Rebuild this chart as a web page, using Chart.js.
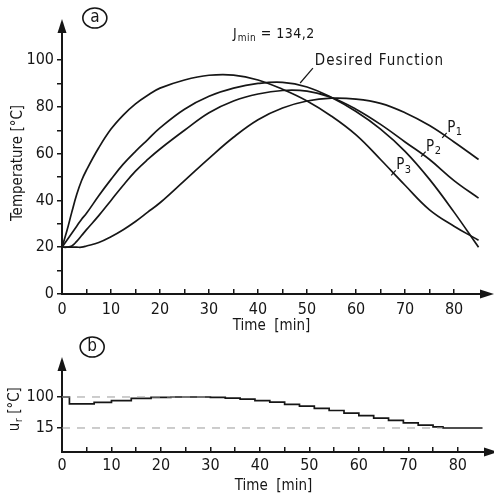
<!DOCTYPE html>
<html>
<head>
<meta charset="utf-8">
<script src="https://cdn.jsdelivr.net/npm/chart.js@4.4.1/dist/chart.umd.min.js"></script>
<style>
  html, body { margin: 0; padding: 0; background: #fff; }
  #wrap { position: relative; width: 494px; height: 500px; }
  #tempChart { position: absolute; left: 0; top: 0; }
  #ctrlChart { position: absolute; left: 0; top: 330px; }
</style>
</head>
<body>
<div id="wrap">
  <canvas id="tempChart" width="494" height="335"></canvas>
  <canvas id="ctrlChart" width="494" height="170"></canvas>
</div>
<script>
// --- chart (a): temperatures
const time = [0, 1, 2, 3, 4, 5, 7.5, 10, 12.5, 15, 17.5, 20, 25, 30, 35, 40, 45, 50, 55, 60, 65, 70, 75, 80, 85];
const desired = [20, 23, 26, 29, 32, 34.5, 42, 49, 55.5, 61, 66, 71, 79, 84.5, 88, 90, 90.5, 88.5, 84, 78, 70.5, 61, 49, 35, 20];
const p1 = [20, 20, 20, 20, 20, 20.5, 22, 24.5, 27.5, 31, 35, 39, 48.5, 58, 67, 74.5, 79.5, 82.5, 83.7, 83.3, 81.5, 77.5, 72, 65, 57.5];
const p2 = [20, 20, 20.5, 22.5, 25, 27.5, 33.5, 40, 46.5, 52.5, 57.5, 62, 70, 77.5, 82.5, 85.5, 87, 86.7, 84, 79, 72.5, 65, 57.5, 48.5, 41];
const p3 = [20, 27, 35, 42.5, 48.5, 53, 62.5, 70.5, 76.5, 81.3, 85, 88, 91.5, 93.5, 93.6, 91.5, 87.5, 82.5, 76, 68, 57.5, 46.5, 36, 29, 23];

// --- chart (b): control temperature u_r (staircase)
const ctrlTime = [0, 1.5, 6.5, 10, 14, 18, 22, 30, 33, 36, 39, 42, 45, 48, 51, 54, 57, 60, 63, 66, 69, 72, 75, 77, 85];
const ctrlValue = [100, 81, 85, 90, 96, 99, 100, 99, 97, 94, 90, 86, 80, 75, 69, 63, 56, 49, 42, 36, 29, 23, 18, 15, 15];
const guideHighTime = [0, 30];
const guideHigh = [100, 100];
const guideLowTime = [0, 77];
const guideLow = [15, 15];

// ticks
const xTicks = [0, 5, 10, 15, 20, 25, 30, 35, 40, 45, 50, 55, 60, 65, 70, 75, 80];
const tempTicks = [0, 10, 20, 30, 40, 50, 60, 70, 80, 90, 100];
const ctrlTicks = [15, 100];

const ink = '#161616';
const FONT = '"DejaVu Sans Condensed", "DejaVu Sans", sans-serif';

const pts = (xs, ys) => xs.map((t, i) => ({ x: t, y: ys[i] }));

function subText(ctx, x, y, main, sub, rest, size) {
  ctx.font = `${size}px ${FONT}`;
  ctx.fillText(main, x, y);
  let w = ctx.measureText(main).width;
  ctx.font = `${Math.round(size * 0.72)}px ${FONT}`;
  ctx.fillText(sub, x + w + 0.5, y + size * 0.3);
  w += ctx.measureText(sub).width + 0.5;
  if (rest) {
    ctx.font = `${size}px ${FONT}`;
    ctx.fillText(rest, x + w, y);
  }
}

function circleTag(ctx, cx, cy, letter) {
  ctx.lineWidth = 1.6;
  ctx.beginPath();
  ctx.ellipse(cx, cy, 12, 10, 0, 0, Math.PI * 2);
  ctx.stroke();
  ctx.font = `17px ${FONT}`;
  ctx.textAlign = 'center';
  ctx.fillText(letter, cx, cy);
  ctx.textAlign = 'left';
}

const axisArrows = {
  id: 'axisArrows',
  afterDraw(chart) {
    const { ctx, chartArea: a } = chart;
    ctx.save();
    ctx.fillStyle = ink;
    ctx.beginPath();
    ctx.moveTo(a.left, a.top - 13);
    ctx.lineTo(a.left - 4.5, a.top + 1);
    ctx.lineTo(a.left + 4.5, a.top + 1);
    ctx.closePath();
    ctx.fill();
    ctx.beginPath();
    ctx.moveTo(a.right + 13, a.bottom);
    ctx.lineTo(a.right - 1, a.bottom - 4.5);
    ctx.lineTo(a.right - 1, a.bottom + 4.5);
    ctx.closePath();
    ctx.fill();
    ctx.restore();
  }
};

// annotation anchors, in data units
const notesA = {
  tag: [6.7, 118],
  jmin: [34.9, 111],
  desired: [51.6, 99.6],
  leader: [[48.6, 90.2], [51.2, 96.6]],
  pLabels: [['1', 78.6, 71], ['2', 74.3, 63], ['3', 68.2, 55]]
};

const tempNotes = {
  id: 'tempNotes',
  afterDraw(chart) {
    const { ctx, scales: { x, y } } = chart;
    const px = t => x.getPixelForValue(t);
    const py = v => y.getPixelForValue(v);
    ctx.save();
    ctx.fillStyle = ink;
    ctx.strokeStyle = ink;
    ctx.textBaseline = 'middle';
    circleTag(ctx, px(notesA.tag[0]), py(notesA.tag[1]), 'a');
    ctx.letterSpacing = '0.5px';
    subText(ctx, px(notesA.jmin[0]), py(notesA.jmin[1]), 'J', 'min', ' = 134,2', 14);
    ctx.letterSpacing = '1px';
    ctx.font = `15px ${FONT}`;
    ctx.fillText('Desired Function', px(notesA.desired[0]), py(notesA.desired[1]));
    ctx.letterSpacing = '0px';
    ctx.lineWidth = 1.2;
    ctx.beginPath();
    ctx.moveTo(px(notesA.leader[0][0]), py(notesA.leader[0][1]));
    ctx.lineTo(px(notesA.leader[1][0]), py(notesA.leader[1][1]));
    ctx.stroke();
    notesA.pLabels.forEach(([n, t, v]) => {
      const lx = px(t), ly = py(v);
      subText(ctx, lx, ly, 'P', n, '', 15);
      ctx.beginPath();
      ctx.moveTo(lx - 0.5, ly + 5);
      ctx.lineTo(lx - 5, ly + 10);
      ctx.stroke();
    });
    ctx.restore();
  }
};

const ctrlNotes = {
  id: 'ctrlNotes',
  afterDraw(chart) {
    const { ctx, scales: { x, y } } = chart;
    ctx.save();
    ctx.fillStyle = ink;
    ctx.strokeStyle = ink;
    ctx.textBaseline = 'middle';
    circleTag(ctx, x.getPixelForValue(6.1), 17, 'b');
    // rotated axis title with subscript
    ctx.translate(15, (y.getPixelForValue(15) + y.getPixelForValue(100)) / 2 - 3);
    ctx.rotate(-Math.PI / 2);
    ctx.font = `15px ${FONT}`;
    const w0 = ctx.measureText('u').width + ctx.measureText('r').width * 0.72 + ctx.measureText(' [°C]').width;
    subText(ctx, -w0 / 2, 0, 'u', 'r', ' [°C]', 15);
    ctx.restore();
  }
};

function lineSet(data, extra) {
  return Object.assign({
    data,
    borderColor: ink,
    borderWidth: 1.7,
    pointRadius: 0,
    fill: false,
    tension: 0.4
  }, extra || {});
}

const tickFont = { family: FONT, size: 16 };
const titleFont = { family: FONT, size: 15 };

new Chart(document.getElementById('tempChart'), {
  type: 'line',
  data: {
    datasets: [
      lineSet(pts(time, desired), { label: 'Desired Function' }),
      lineSet(pts(time, p1), { label: 'P1' }),
      lineSet(pts(time, p2), { label: 'P2' }),
      lineSet(pts(time, p3), { label: 'P3' })
    ]
  },
  options: {
    responsive: false,
    animation: false,
    layout: { padding: { top: 32, right: 13, bottom: 0, left: 0 } },
    plugins: { legend: { display: false }, tooltip: { enabled: false } },
    scales: {
      x: {
        type: 'linear',
        min: 0,
        max: 85.5,
        afterFit: s => { s.height = 41; },
        afterBuildTicks: s => { s.ticks = xTicks.map(v => ({ value: v })); },
        border: { display: true, color: ink, width: 2 },
        grid: { drawOnChartArea: false, drawTicks: true, tickLength: -5, color: ink, lineWidth: 1.5 },
        ticks: {
          color: ink, font: tickFont, padding: 11, maxRotation: 0, autoSkip: false,
          callback: v => (v % 10 === 0 ? String(v) : '')
        },
        title: { display: true, text: 'Time  [min]', color: ink, font: titleFont, padding: { top: 0, bottom: 0 } }
      },
      y: {
        min: 0,
        max: 112,
        afterFit: s => { s.width = 62; },
        afterBuildTicks: s => { s.ticks = tempTicks.map(v => ({ value: v })); },
        border: { display: true, color: ink, width: 2 },
        grid: { drawOnChartArea: false, drawTicks: true, tickLength: 5, color: ink, lineWidth: 1.5 },
        ticks: {
          color: ink, font: tickFont, padding: 3,
          callback: v => (v % 20 === 0 ? String(v) : '')
        },
        title: { display: true, text: 'Temperature [°C]', color: ink, font: titleFont, padding: { top: 9, bottom: 0 } }
      }
    }
  },
  plugins: [axisArrows, tempNotes]
});

new Chart(document.getElementById('ctrlChart'), {
  type: 'line',
  data: {
    datasets: [
      lineSet(pts(guideHighTime, guideHigh), { borderColor: '#9a9a9a', borderWidth: 1, borderDash: [8, 7], tension: 0 }),
      lineSet(pts(guideLowTime, guideLow), { borderColor: '#9a9a9a', borderWidth: 1, borderDash: [8, 7], tension: 0 }),
      lineSet(pts(ctrlTime, ctrlValue), { label: 'u_r', stepped: true, tension: 0 })
    ]
  },
  options: {
    responsive: false,
    animation: false,
    layout: { padding: { top: 40, right: 9, bottom: 0, left: 0 } },
    plugins: { legend: { display: false }, tooltip: { enabled: false } },
    scales: {
      x: {
        type: 'linear',
        min: 0,
        max: 85.5,
        afterFit: s => { s.height = 48; },
        afterBuildTicks: s => { s.ticks = xTicks.map(v => ({ value: v })); },
        border: { display: true, color: ink, width: 2 },
        grid: { drawOnChartArea: false, drawTicks: true, tickLength: -5, color: ink, lineWidth: 1.5 },
        ticks: {
          color: ink, font: tickFont, padding: 9, maxRotation: 0, autoSkip: false,
          callback: v => (v % 10 === 0 ? String(v) : '')
        },
        title: { display: true, text: 'Time  [min]', color: ink, font: titleFont, padding: { top: 0, bottom: 5 } }
      },
      y: {
        min: -50.8,
        max: 174,
        afterFit: s => { s.width = 62; },
        afterBuildTicks: s => { s.ticks = ctrlTicks.map(v => ({ value: v })); },
        border: { display: true, color: ink, width: 2 },
        grid: { drawOnChartArea: false, drawTicks: true, tickLength: 5, color: ink, lineWidth: 1.5 },
        ticks: { color: ink, font: tickFont, padding: 3 }
      }
    }
  },
  plugins: [axisArrows, ctrlNotes]
});
</script>
</body>
</html>
